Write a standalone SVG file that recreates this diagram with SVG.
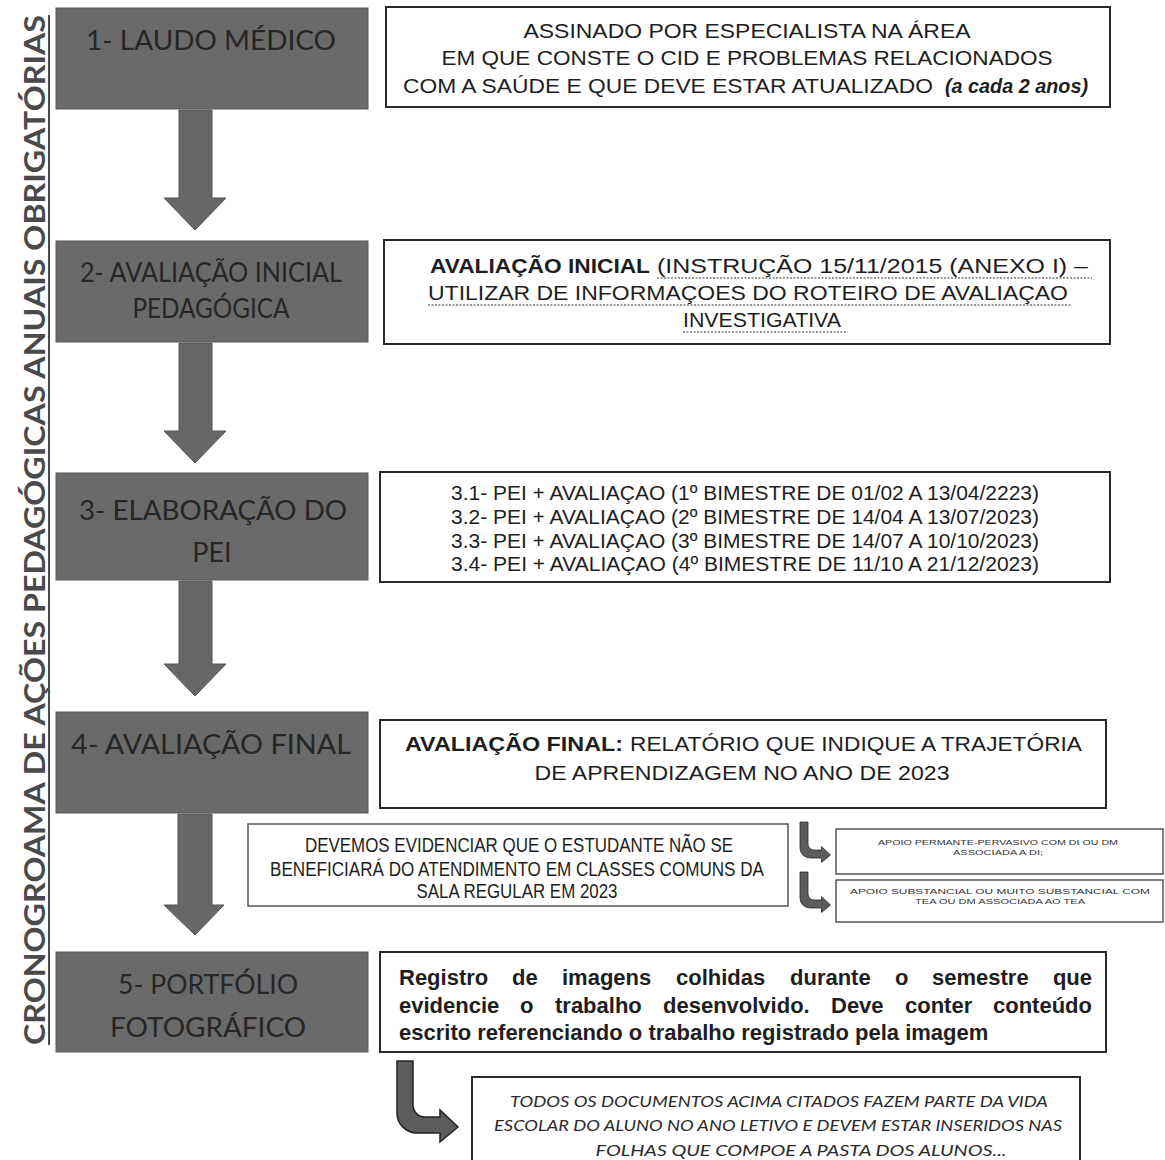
<svg xmlns="http://www.w3.org/2000/svg" width="1165" height="1160" viewBox="0 0 1165 1160">
<style>
.dark{fill:#6a6a6a;stroke:#5a5a5a;stroke-width:1}
.dt{font-family:Lato,"Open Sans",sans-serif;font-size:27px;fill:#262626;text-anchor:middle}
.box{fill:#fff;stroke:#2a2a2a;stroke-width:2}
.thin{fill:#fff;stroke:#555;stroke-width:1.5}
.t{font-family:"Liberation Sans",Arial,sans-serif;font-size:20px;fill:#1e1e1e}
.c{text-anchor:middle}
.b{font-weight:bold}
.sq{fill:none;stroke:#777;stroke-width:1.3;stroke-dasharray:2 1.5}
.arr{fill:#676767;stroke:#555;stroke-width:1}
.bent{fill:#5c5c5c;stroke:#222;stroke-width:1.5}
.it{font-family:Lato,"Open Sans",sans-serif;font-style:italic;font-size:16px;fill:#2a2a2a;text-anchor:middle}
.tiny{font-family:"Liberation Sans",Arial,sans-serif;font-size:8px;fill:#333;text-anchor:middle}
.w{font-family:"Liberation Sans",Arial,sans-serif;font-size:22px;font-weight:bold;fill:#1e1e1e}
</style>
<defs>
<path id="bentArrow" d="M0,0 H16 V44 A12,12 0 0 0 28,56 H43 V49 L61,66 L43,81 V72 H20 A20,20 0 0 1 0,52 Z"/>
</defs>
<rect width="1165" height="1160" fill="#fff"/>

<g id="title">
<text transform="translate(45,1045) rotate(-90)" font-family="Lato,'Open Sans',sans-serif" font-weight="bold" font-size="28" fill="#4a4a4a" textLength="1030" lengthAdjust="spacingAndGlyphs">CRONOGROAMA DE AÇÕES PEDAGÓGICAS ANUAIS OBRIGATÓRIAS</text>
<line x1="49" y1="1045" x2="49" y2="15" stroke="#4a4a4a" stroke-width="2"/>
</g>

<g id="connectors">
<path class="arr" d="M179,110 H212 V198 H226 L195,230 L164,198 H179 Z"/>
<path class="arr" d="M179,343 H212 V431 H226 L195,463 L164,431 H179 Z"/>
<path class="arr" d="M179,581 H212 V664 H226 L195,696 L164,664 H179 Z"/>
<path class="arr" d="M178,814 H212 V905 H224 L195,935 L164,905 H178 Z"/>
<use href="#bentArrow" class="bent" transform="translate(800,822) scale(0.5)"/>
<use href="#bentArrow" class="bent" transform="translate(800,872) scale(0.5)"/>
<use href="#bentArrow" class="bent" transform="translate(397,1061)"/>
</g>

<g id="n1">
<rect class="dark" x="56" y="8" width="312" height="101"/>
<text class="dt" x="211" y="50" textLength="250" lengthAdjust="spacingAndGlyphs">1- LAUDO MÉDICO</text>
</g>
<g id="n2">
<rect class="dark" x="56" y="241" width="312" height="101"/>
<text class="dt" x="211" y="282" font-size="23" textLength="262" lengthAdjust="spacingAndGlyphs">2- AVALIAÇÃO INICIAL</text>
<text class="dt" x="211" y="318" font-size="23" textLength="157" lengthAdjust="spacingAndGlyphs">PEDAGÓGICA</text>
</g>
<g id="n3">
<rect class="dark" x="56" y="473" width="312" height="107"/>
<text class="dt" x="213" y="520" textLength="268" lengthAdjust="spacingAndGlyphs">3- ELABORAÇÃO DO</text>
<text class="dt" x="212" y="562">PEI</text>
</g>
<g id="n4">
<rect class="dark" x="56" y="712" width="312" height="101"/>
<text class="dt" x="211" y="754" textLength="280" lengthAdjust="spacingAndGlyphs">4- AVALIAÇÃO FINAL</text>
</g>
<g id="n5">
<rect class="dark" x="56" y="952" width="312" height="100"/>
<text class="dt" x="208" y="994" textLength="180" lengthAdjust="spacingAndGlyphs">5- PORTFÓLIO</text>
<text class="dt" x="208" y="1037" textLength="196" lengthAdjust="spacingAndGlyphs">FOTOGRÁFICO</text>
</g>

<g id="r1">
<rect class="box" x="386" y="7" width="724" height="100"/>
<text class="t c" x="747" y="38" font-size="21" textLength="447" lengthAdjust="spacingAndGlyphs">ASSINADO POR ESPECIALISTA NA ÁREA</text>
<text class="t c" x="747" y="65" font-size="21" textLength="611" lengthAdjust="spacingAndGlyphs">EM QUE CONSTE O CID E PROBLEMAS RELACIONADOS</text>
<text class="t" x="403" y="93" font-size="21" textLength="530" lengthAdjust="spacingAndGlyphs">COM A SAÚDE E QUE DEVE ESTAR ATUALIZADO</text>
<text class="t b" x="945" y="93" font-size="16" font-style="italic" textLength="143" lengthAdjust="spacingAndGlyphs">(a cada 2 anos)</text>
</g>

<g id="r2">
<rect class="box" x="384" y="240" width="726" height="104"/>
<text class="t b" x="430" y="273" textLength="220" lengthAdjust="spacingAndGlyphs">AVALIAÇÃO  INICIAL</text>
<text class="t" x="657" y="273" textLength="431" lengthAdjust="spacingAndGlyphs">(INSTRUÇÃO  15/11/2015 (ANEXO I) –</text>
<text class="t" x="428" y="300" textLength="640" lengthAdjust="spacingAndGlyphs">UTILIZAR DE INFORMAÇOES  DO ROTEIRO DE AVALIAÇAO</text>
<text class="t" x="683" y="327" textLength="158" lengthAdjust="spacingAndGlyphs">INVESTIGATIVA</text>
<path class="sq" d="M657,278 H1092 M428,305 H1072 M683,332 H848"/>
</g>

<g id="r3">
<rect class="box" x="380" y="472" width="730" height="110"/>
<text class="t c" x="745" y="500" textLength="588" lengthAdjust="spacingAndGlyphs">3.1- PEI + AVALIAÇAO (1º BIMESTRE DE 01/02 A 13/04/2223)</text>
<text class="t c" x="745" y="524" textLength="588" lengthAdjust="spacingAndGlyphs">3.2- PEI + AVALIAÇAO (2º BIMESTRE DE 14/04 A 13/07/2023)</text>
<text class="t c" x="745" y="548" textLength="588" lengthAdjust="spacingAndGlyphs">3.3- PEI + AVALIAÇAO (3º BIMESTRE DE 14/07 A 10/10/2023)</text>
<text class="t c" x="745" y="571" textLength="588" lengthAdjust="spacingAndGlyphs">3.4- PEI + AVALIAÇAO (4º BIMESTRE DE 11/10 A 21/12/2023)</text>
</g>

<g id="r4">
<rect class="box" x="380" y="720" width="726" height="88"/>
<text class="t b" x="405" y="751" font-size="21" textLength="218" lengthAdjust="spacingAndGlyphs">AVALIAÇÃO  FINAL:</text>
<text class="t" x="630" y="751" font-size="21" textLength="452" lengthAdjust="spacingAndGlyphs">RELATÓRIO QUE INDIQUE A TRAJETÓRIA</text>
<text class="t c" x="742" y="780" font-size="21" textLength="415" lengthAdjust="spacingAndGlyphs">DE APRENDIZAGEM NO ANO DE 2023</text>
</g>

<g id="m1">
<rect class="thin" x="248" y="824" width="540" height="82"/>
<text class="t c" x="519" y="852" font-size="18" textLength="428" lengthAdjust="spacingAndGlyphs">DEVEMOS EVIDENCIAR QUE O ESTUDANTE NÃO SE</text>
<text class="t c" x="517" y="876" font-size="18" textLength="494" lengthAdjust="spacingAndGlyphs">BENEFICIARÁ DO ATENDIMENTO EM CLASSES COMUNS DA</text>
<text class="t c" x="517" y="898" font-size="18" textLength="201" lengthAdjust="spacingAndGlyphs">SALA REGULAR EM 2023</text>
</g>

<g id="s1">
<rect class="thin" x="836" y="829" width="327" height="45" stroke-width="1"/>
<text class="tiny" x="998" y="845" textLength="240" lengthAdjust="spacingAndGlyphs">APOIO PERMANTE-PERVASIVO COM DI OU DM</text>
<text class="tiny" x="998" y="855" textLength="90" lengthAdjust="spacingAndGlyphs">ASSOCIADA A DI;</text>
</g>
<g id="s2">
<rect class="thin" x="836" y="880" width="327" height="42" stroke-width="1"/>
<text class="tiny" x="1000" y="894" textLength="300" lengthAdjust="spacingAndGlyphs">APOIO SUBSTANCIAL OU MUITO SUBSTANCIAL COM</text>
<text class="tiny" x="1000" y="904" textLength="170" lengthAdjust="spacingAndGlyphs">TEA OU DM ASSOCIADA AO TEA</text>
</g>

<g id="r5">
<rect class="box" x="380" y="952" width="726" height="100"/>
<text class="w" x="399" y="985">Registro</text>
<text class="w" x="512" y="985">de</text>
<text class="w" x="562" y="985">imagens</text>
<text class="w" x="676" y="985">colhidas</text>
<text class="w" x="790" y="985">durante</text>
<text class="w" x="895" y="985">o</text>
<text class="w" x="932" y="985">semestre</text>
<text class="w" x="1092" y="985" text-anchor="end">que</text>
<text class="w" x="399" y="1013">evidencie</text>
<text class="w" x="520" y="1013">o</text>
<text class="w" x="555" y="1013">trabalho</text>
<text class="w" x="663" y="1013">desenvolvido.</text>
<text class="w" x="831" y="1013">Deve</text>
<text class="w" x="905" y="1013">conter</text>
<text class="w" x="1092" y="1013" text-anchor="end">conteúdo</text>
<text class="w" x="399" y="1040">escrito referenciando o trabalho registrado pela imagem</text>
</g>

<g id="r6">
<rect class="box" x="472" y="1077" width="608" height="90"/>
<text class="it" x="779" y="1107" textLength="538" lengthAdjust="spacingAndGlyphs">TODOS OS DOCUMENTOS  ACIMA CITADOS  FAZEM  PARTE  DA VIDA</text>
<text class="it" x="778" y="1131" textLength="568" lengthAdjust="spacingAndGlyphs">ESCOLAR  DO ALUNO NO ANO LETIVO  E DEVEM  ESTAR  INSERIDOS  NAS</text>
<text class="it" x="801" y="1156" textLength="411" lengthAdjust="spacingAndGlyphs">FOLHAS  QUE COMPOE  A PASTA  DOS ALUNOS...</text>
</g>
</svg>
